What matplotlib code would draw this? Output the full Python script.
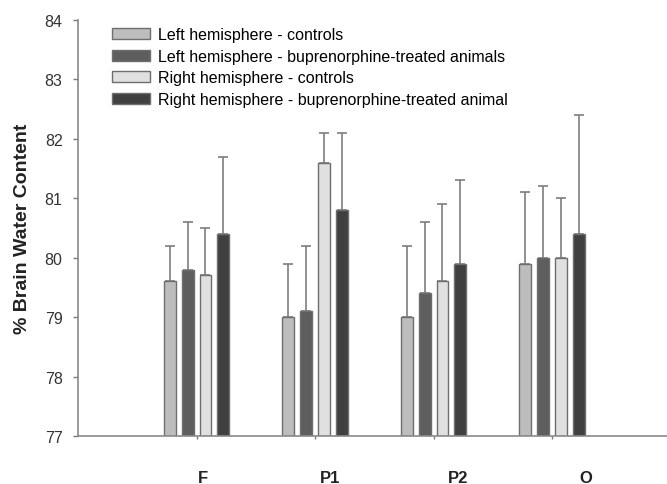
import matplotlib
matplotlib.use("Agg")
import matplotlib.pyplot as plt
import numpy as np

plt.rcParams["font.family"] = ["Liberation Sans", "DejaVu Sans"]

regions = ["F", "P1", "P2", "O"]
series_labels = [
    "Left hemisphere - controls",
    "Left hemisphere - buprenorphine-treated animals",
    "Right hemisphere - controls",
    "Right hemisphere - buprenorphine-treated animal",
]
left_ctrl = [79.6, 79.0, 79.0, 79.9]
left_bup = [79.8, 79.1, 79.4, 80.0]
right_ctrl = [79.7, 81.6, 79.6, 80.0]
right_bup = [80.4, 80.8, 79.9, 80.4]
left_ctrl_sd = [0.6, 0.9, 1.2, 1.2]
left_bup_sd = [0.8, 1.1, 1.2, 1.2]
right_ctrl_sd = [0.8, 0.5, 1.3, 1.0]
right_bup_sd = [1.3, 1.3, 1.4, 2.0]

colors = ["#bdbdbd", "#5e5e5e", "#e0e0e0", "#404040"]

fig = plt.figure(figsize=(6.67, 4.85), dpi=100)
ax = fig.add_axes([0.117, 0.099, 0.883, 0.858])

x = np.arange(len(regions))
width = 0.1
offsets = [-0.225, -0.075, 0.075, 0.225]
values = [left_ctrl, left_bup, right_ctrl, right_bup]
errors = [left_ctrl_sd, left_bup_sd, right_ctrl_sd, right_bup_sd]
bottom = 77
for vals, errs, off, color, label in zip(values, errors, offsets, colors, series_labels):
    heights = [v - bottom for v in vals]
    ax.bar(x + off, heights, width, bottom=bottom, color=color, edgecolor="#6e6e6e",
           linewidth=1.0, label=label, zorder=2)
    ax.errorbar(x + off, vals, yerr=[np.zeros(len(vals)), errs], fmt="none",
                ecolor="#7e7e7e", elinewidth=1.2, capsize=3.4, capthick=1.2, zorder=1)

ax.set_ylim(77, 84)
ax.set_xlim(-1.0, 3.97)
ax.set_yticks(range(77, 85))
ax.tick_params(axis="y", labelsize=11.5, colors="#7a7a7a", labelcolor="#333333",
               length=3.6, width=1, pad=7.5)
ax.set_xticks(x)
ax.set_xticklabels([])
ax.tick_params(axis="x", length=2.2, width=1, colors="#7a7a7a")
# group names sit slightly right of the ticks, drifting further right across the axis
for xi, name in zip(x, regions):
    ax.text(xi * 1.077 + 0.05, -0.099, name, transform=ax.get_xaxis_transform(),
            ha="center", va="center", fontsize=12, fontweight="bold", color="#222222")
ax.set_ylabel("% Brain Water Content", fontsize=14, fontweight="bold", color="#222222",
              labelpad=10)
for side in ["top", "right"]:
    ax.spines[side].set_visible(False)
for side in ["left", "bottom"]:
    ax.spines[side].set_color("#8a8a8a")
    ax.spines[side].set_linewidth(1.2)

ax.legend(loc="upper left", bbox_to_anchor=(112 / 667, 1 - 28 / 485),
          bbox_transform=fig.transFigure, frameon=False, fontsize=11.5,
          borderpad=0, borderaxespad=0, handlelength=2.4, handleheight=0.7,
          labelspacing=0.42, handletextpad=0.5)

fig.savefig("out.png", dpi=100)
